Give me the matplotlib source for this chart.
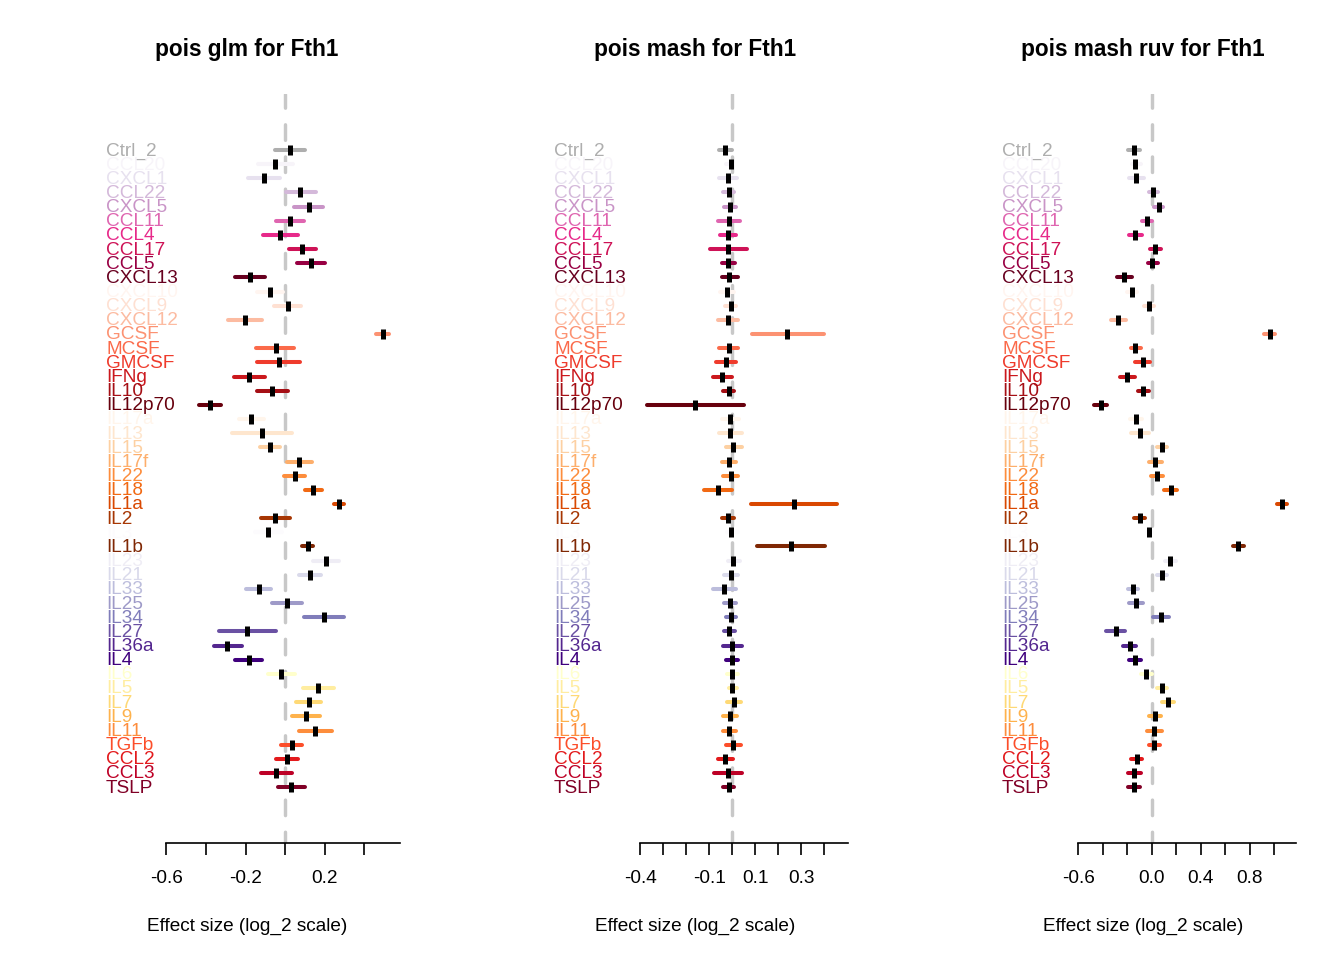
import matplotlib
matplotlib.use("Agg")
import matplotlib.pyplot as plt
import matplotlib.transforms as mtransforms

plt.rcParams['font.family'] = ['Liberation Sans', 'DejaVu Sans']

genes = ["Ctrl_2", "CCL20", "CXCL1", "CCL22", "CXCL5", "CCL11", "CCL4", "CCL17", "CCL5", "CXCL13",
         "CXCL10", "CXCL9", "CXCL12", "GCSF", "MCSF", "GMCSF", "IFNg", "IL10", "IL12p70", "IL17a",
         "IL13", "IL15", "IL17f", "IL22", "IL18", "IL1a", "IL2", "IL3", "IL1b", "IL23",
         "IL21", "IL33", "IL25", "IL34", "IL27", "IL36a", "IL4", "IL6", "IL5", "IL7",
         "IL9", "IL11", "TGFb", "CCL2", "CCL3", "TSLP"]

gene_cols = ["#AEAEAE",
             "#F7F4F9", "#E7E1EF", "#D4B9DA", "#C994C7", "#DF65B0", "#E7298A", "#CE1256", "#980043", "#67001F",
             "#FFF5F0", "#FEE0D2", "#FCBBA1", "#FC9272", "#FB6A4A", "#EF3B2C", "#CB181D", "#A50F15", "#67000D",
             "#FFF5EB", "#FEE6CE", "#FDD0A2", "#FDAE6B", "#FD8D3C", "#F16913", "#D94801", "#A63603",
             "#FCFBFD", "#7F2704",
             "#EFEDF5", "#DADAEB", "#BCBDDC", "#9E9AC8", "#807DBA", "#6A51A3", "#54278F", "#3F007D",
             "#FFFFCC", "#FFEDA0", "#FED976", "#FEB24C", "#FD8D3C", "#FC4E2A", "#E31A1C", "#BD0026", "#800026"]

# pois glm
glm_est = [0.025, -0.05, -0.106, 0.078, 0.12, 0.024, -0.024, 0.086, 0.13, -0.177,
           -0.074, 0.014, -0.204, 0.495, -0.047, -0.03, -0.181, -0.064, -0.38, -0.17,
           -0.116, -0.078, 0.073, 0.049, 0.143, 0.272, -0.049, -0.084, 0.115, 0.209,
           0.125, -0.133, 0.008, 0.199, -0.191, -0.292, -0.184, -0.02, 0.169, 0.12,
           0.105, 0.153, 0.034, 0.01, -0.044, 0.032]
glm_lo = [-0.05, -0.138, -0.186, 0.003, 0.046, -0.047, -0.113, 0.019, 0.059, -0.253,
          -0.14, -0.057, -0.289, 0.461, -0.145, -0.14, -0.258, -0.142, -0.435, -0.231,
          -0.267, -0.127, 0.012, -0.007, 0.1, 0.248, -0.122, -0.154, 0.084, 0.143,
          0.069, -0.197, -0.068, 0.095, -0.336, -0.361, -0.255, -0.088, 0.09, 0.056,
          0.035, 0.071, -0.02, -0.044, -0.122, -0.034]
glm_hi = [0.10, 0.039, -0.025, 0.155, 0.194, 0.095, 0.066, 0.157, 0.201, -0.1,
          -0.009, 0.081, -0.118, 0.528, 0.047, 0.078, -0.103, 0.017, -0.322, -0.108,
          0.035, -0.027, 0.137, 0.103, 0.189, 0.297, 0.025, -0.015, 0.143, 0.275,
          0.182, -0.071, 0.084, 0.3, -0.046, -0.219, -0.115, 0.049, 0.25, 0.184,
          0.176, 0.238, 0.088, 0.067, 0.035, 0.101]

# pois mash
mash_est = [-0.030, -0.007, -0.02, -0.016, -0.01, -0.014, -0.017, -0.019, -0.017, -0.013,
            -0.023, -0.007, -0.019, 0.239, -0.016, -0.027, -0.043, -0.014, -0.161, -0.009,
            -0.01, 0.004, -0.016, -0.007, -0.062, 0.268, -0.017, -0.006, 0.253, 0.004,
            -0.006, -0.035, -0.011, -0.007, -0.013, 0.0, -0.001, 0.0, -0.003, 0.009,
            -0.009, -0.013, 0.004, -0.03, -0.02, -0.016]
mash_lo = [-0.058, -0.027, -0.058, -0.039, -0.036, -0.061, -0.052, -0.097, -0.045, -0.046,
           -0.053, -0.032, -0.062, 0.084, -0.058, -0.071, -0.085, -0.039, -0.369, -0.046,
           -0.058, -0.027, -0.046, -0.04, -0.123, 0.08, -0.043, -0.024, 0.106, -0.02,
           -0.035, -0.082, -0.037, -0.029, -0.037, -0.042, -0.027, -0.023, -0.016, -0.022,
           -0.039, -0.042, -0.029, -0.063, -0.079, -0.04]
mash_hi = [-0.003, 0.004, 0.019, 0.009, 0.016, 0.035, 0.017, 0.062, 0.01, 0.026,
           0.007, 0.016, 0.026, 0.397, 0.026, 0.016, 0.0, 0.006, 0.051, 0.029,
           0.041, 0.042, 0.015, 0.026, -0.003, 0.456, 0.009, 0.026, 0.402, 0.033,
           0.025, 0.017, 0.017, 0.015, 0.013, 0.041, 0.025, 0.026, 0.02, 0.039,
           0.022, 0.017, 0.039, 0.004, 0.041, 0.006]

# pois mash ruv
ruv_est = [-0.147, -0.134, -0.126, 0.008, 0.057, -0.041, -0.134, 0.03, 0.005, -0.224,
           -0.164, -0.025, -0.273, 0.965, -0.134, -0.074, -0.202, -0.068, -0.415, -0.131,
           -0.098, 0.082, 0.03, 0.043, 0.155, 1.063, -0.098, -0.02, 0.706, 0.152,
           0.084, -0.155, -0.128, 0.074, -0.294, -0.18, -0.139, -0.049, 0.082, 0.131,
           0.025, 0.019, 0.021, -0.123, -0.145, -0.147]
ruv_lo = [-0.196, -0.164, -0.183, -0.025, 0.019, -0.082, -0.183, -0.014, -0.033, -0.286,
          -0.199, -0.065, -0.33, 0.921, -0.172, -0.137, -0.259, -0.112, -0.469, -0.177,
          -0.167, 0.041, -0.02, -0.003, 0.103, 1.022, -0.142, -0.041, 0.667, 0.106,
          0.041, -0.194, -0.183, 0.013, -0.371, -0.235, -0.186, -0.087, 0.041, 0.082,
          -0.022, -0.036, -0.025, -0.167, -0.194, -0.194]
ruv_hi = [-0.096, -0.09, -0.063, 0.054, 0.09, 0.005, -0.079, 0.079, 0.049, -0.158,
          -0.123, 0.021, -0.213, 1.008, -0.087, -0.011, -0.139, -0.025, -0.363, -0.079,
          -0.025, 0.125, 0.084, 0.092, 0.207, 1.104, -0.052, 0.005, 0.752, 0.196,
          0.128, -0.114, -0.071, 0.139, -0.216, -0.126, -0.09, 0.0, 0.123, 0.18,
          0.074, 0.082, 0.07, -0.079, -0.09, -0.096]

titles = ["pois glm for Fth1", "pois mash for Fth1", "pois mash ruv for Fth1"]
xlims = [(-0.967, 0.582), (-0.826, 0.502), (-1.322, 1.18)]
ticks = [[-0.6, -0.4, -0.2, 0.0, 0.2, 0.4],
         [-0.4, -0.3, -0.2, -0.1, 0.0, 0.1, 0.2, 0.3, 0.4],
         [-0.6, -0.4, -0.2, 0.0, 0.2, 0.4, 0.6, 0.8, 1.0]]
tick_labels = [["-0.6", "", "-0.2", "", "0.2", ""],
               ["-0.4", "", "", "-0.1", "", "0.1", "", "0.3", ""],
               ["-0.6", "", "", "0.0", "", "0.4", "", "0.8", ""]]
panels = [(glm_est, glm_lo, glm_hi), (mash_est, mash_lo, mash_hi), (ruv_est, ruv_lo, ruv_hi)]

W, H = 1344, 960
fig = plt.figure(figsize=(W / 100, H / 100), dpi=100)

fs = 13.7
for k in range(3):
    est, lo, hi = panels[k]
    left = 94 + 448 * k
    ax = fig.add_axes([left / W, (H - 843) / H, 306 / W, (843 - 94) / H])
    ax.set_xlim(*xlims[k])
    ax.set_ylim(48.94, -3.955)

    # zero line
    ax.axvline(0, color="#C8C8C8", lw=2.45, linestyle=(1.26, (4.57, 4.88)),
               dash_capstyle="round", zorder=1)

    for i in range(len(genes)):
        ax.plot([lo[i], hi[i]], [i, i], color=gene_cols[i], lw=2.9,
                solid_capstyle="round", zorder=2)
        ax.plot(est[i], i, marker="|", color="black", markersize=7.9,
                markeredgewidth=3.6, zorder=3)

    trans = mtransforms.offset_copy(ax.get_yaxis_transform(), fig=fig, y=-5.4, units="dots")
    for i, g in enumerate(genes):
        ax.text(12 / 306, i, g, color=gene_cols[i], fontsize=fs, ha="left",
                va="baseline", transform=trans)

    for s in ["top", "right", "left"]:
        ax.spines[s].set_visible(False)
    ax.spines["bottom"].set_bounds(ticks[k][0], xlims[k][1])
    ax.spines["bottom"].set_linewidth(1.2)
    ax.set_yticks([])
    ax.set_xticks(ticks[k])
    ax.set_xticklabels(tick_labels[k])
    ax.tick_params(axis="x", length=8.6, width=1.2, pad=11, labelsize=fs)

    cx = left + 153
    fig.text(cx / W, 1 - 56 / H, titles[k], ha="center", va="baseline",
             fontsize=16.3, fontweight="bold")
    fig.text(cx / W, 1 - 931 / H, "Effect size (log_2 scale)", ha="center",
             va="baseline", fontsize=fs)

fig.savefig("out.png", dpi=100)
